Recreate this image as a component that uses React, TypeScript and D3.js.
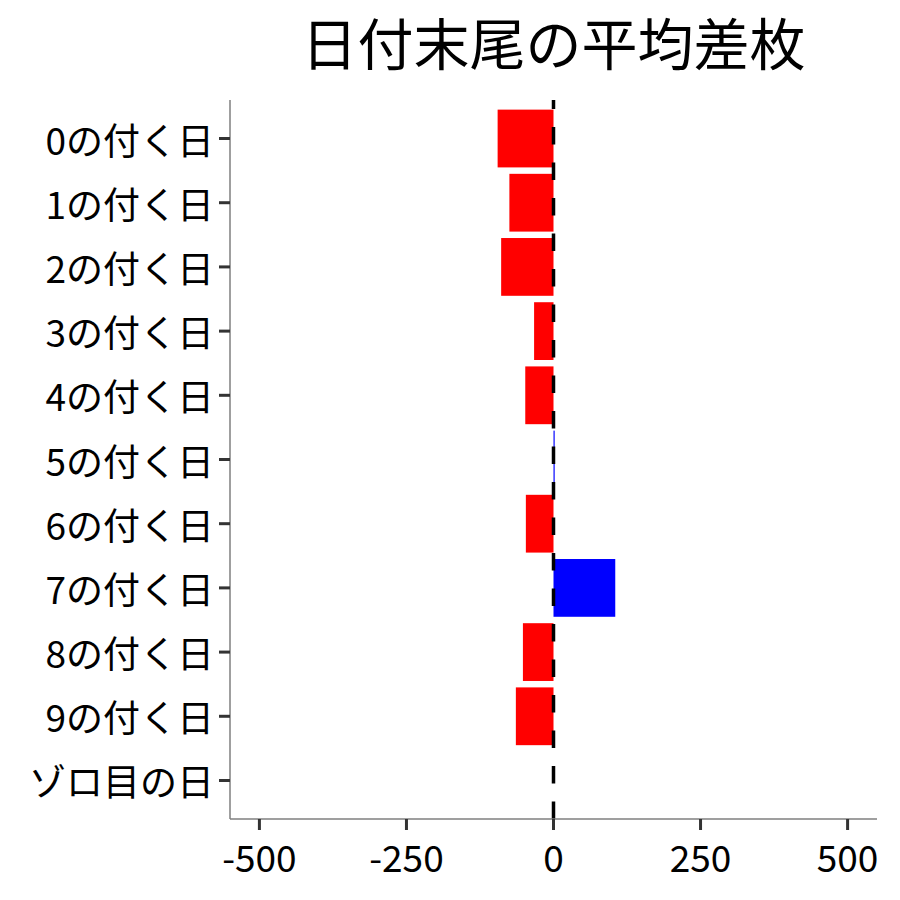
import React from "react";
import * as d3 from "d3";

const categories = ["0の付く日","1の付く日","2の付く日","3の付く日","4の付く日","5の付く日","6の付く日","7の付く日","8の付く日","9の付く日","ゾロ目の日"];
const values = [-95, -75, -89, -33, -48, 2, -47, 105, -52, -64, 0];
const xTicks = [-500, -250, 0, 250, 500];
const title = "日付末尾の平均差枚";

const W = 900, H = 900;
const left = 230, right = 877, top = 100, bottom = 819;
const FONT = "'Noto Sans CJK JP', 'Noto Sans', sans-serif";

export default function App() {
  const x = d3.scaleLinear().domain([-550, 550]).range([left, right]);
  const band = (bottom - top) / (categories.length - 1 + 1.2);
  const y = (i: number) => top + band * (0.6 + i);
  const bw = band * 0.9;
  const x0 = x(0);
  return (
    <svg width={W} height={H} style={{ position: "absolute", left: 0, top: 0, background: "#fff" }}>
      <text x={(left + right) / 2} y={65} textAnchor="middle" fontFamily={FONT} fontSize={56} fill="#000">{title}</text>
      {values.map((v, i) => v === 0 ? null : (
        <rect key={i} x={Math.min(x(v), x0)} y={y(i) - bw / 2} width={Math.abs(x(v) - x0)} height={bw} fill={v < 0 ? "#FF0000" : "#0000FF"} />
      ))}
      <line x1={x0} x2={x0} y1={bottom} y2={top} stroke="#000" strokeWidth={3.5} strokeDasharray="17.5,18" />
      <line x1={left} x2={left} y1={top} y2={bottom} stroke="#7f7f7f" strokeWidth={1.5} />
      <line x1={left} x2={right} y1={bottom} y2={bottom} stroke="#7f7f7f" strokeWidth={1.5} />
      {categories.map((c, i) => (
        <g key={c}>
          <line x1={left - 11} x2={left} y1={y(i)} y2={y(i)} stroke="#333" strokeWidth={3} />
          <text x={left - 16} y={y(i)} textAnchor="end" dominantBaseline="central" fontFamily={FONT} fontSize={37} fill="#000">{c}</text>
        </g>
      ))}
      {xTicks.map(t => (
        <g key={t}>
          <line x1={x(t)} x2={x(t)} y1={bottom} y2={bottom + 11} stroke="#333" strokeWidth={3} />
          <text x={x(t)} y={856} textAnchor="middle" dominantBaseline="central" fontFamily={FONT} fontSize={37} fill="#000">{t}</text>
        </g>
      ))}
    </svg>
  );
}
